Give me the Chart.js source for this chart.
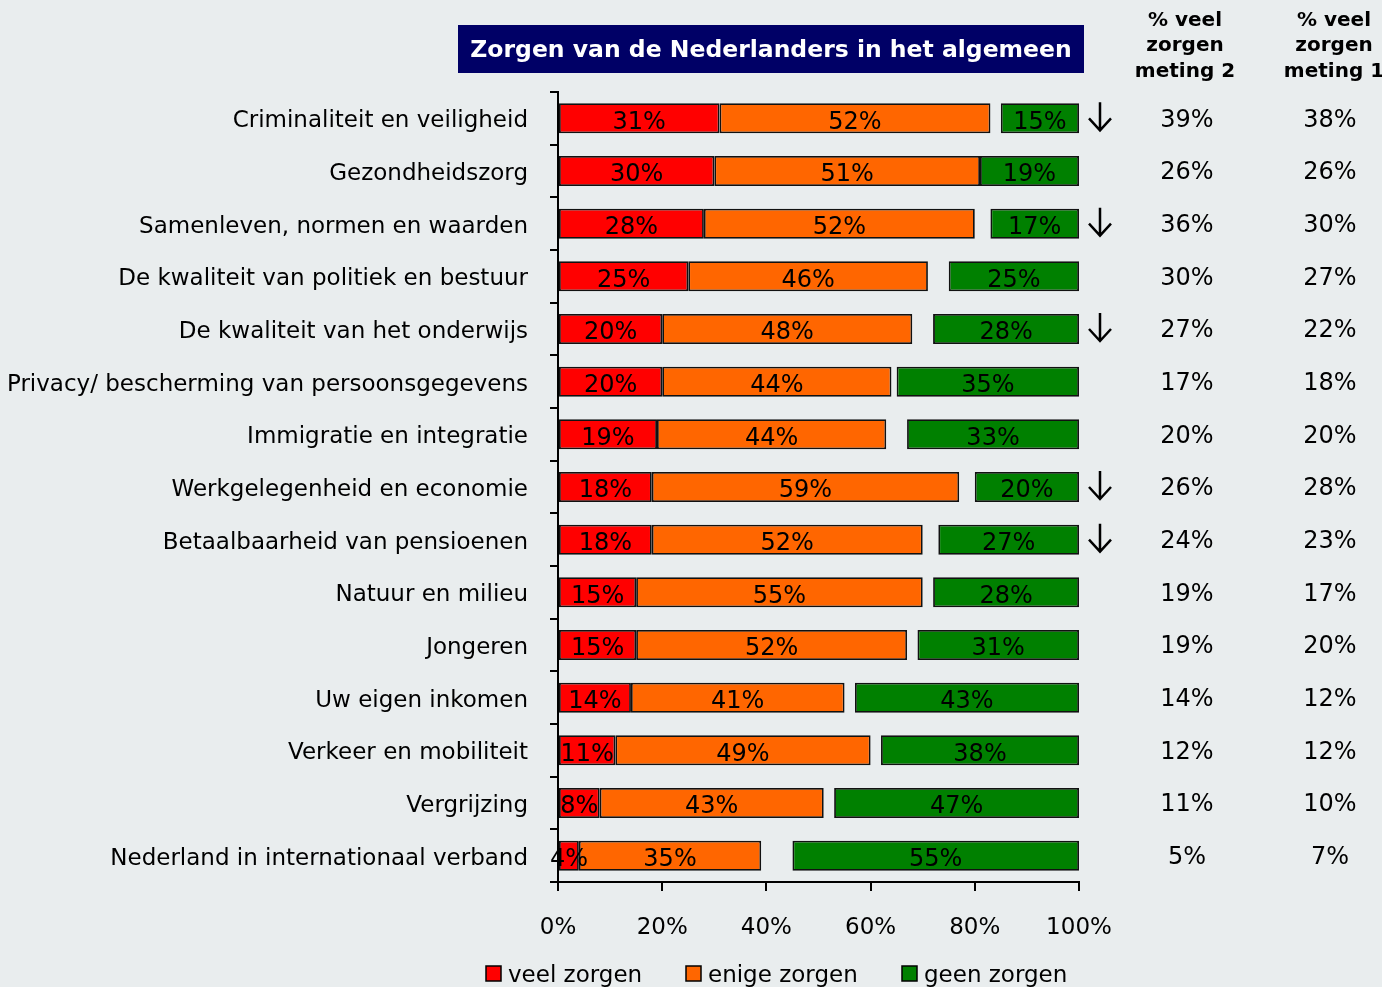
<!DOCTYPE html>
<html>
<head>
<meta charset="utf-8">
<script src="https://cdn.jsdelivr.net/npm/chart.js@4"></script>
<style>
  html, body { margin: 0; padding: 0; background: #e9edee; }
  #wrap { position: relative; width: 1382px; height: 987px; overflow: hidden; }
</style>
</head>
<body>
<div id="wrap"><canvas id="chart"></canvas></div>
<script>
const categories = [
    "Criminaliteit en veiligheid",
    "Gezondheidszorg",
    "Samenleven, normen en waarden",
    "De kwaliteit van politiek en bestuur",
    "De kwaliteit van het onderwijs",
    "Privacy/ bescherming van persoonsgegevens",
    "Immigratie en integratie",
    "Werkgelegenheid en economie",
    "Betaalbaarheid van pensioenen",
    "Natuur en milieu",
    "Jongeren",
    "Uw eigen inkomen",
    "Verkeer en mobiliteit",
    "Vergrijzing",
    "Nederland in internationaal verband"
];
const veelZorgen = [31, 30, 28, 25, 20, 20, 19, 18, 18, 15, 15, 14, 11, 8, 4];
const enigeZorgen = [52, 51, 52, 46, 48, 44, 44, 59, 52, 55, 52, 41, 49, 43, 35];
const geenZorgen = [15, 19, 17, 25, 28, 35, 33, 20, 27, 28, 31, 43, 38, 47, 55];
const meting2 = [39, 26, 36, 30, 27, 17, 20, 26, 24, 19, 19, 14, 12, 11, 5];
const meting1 = [38, 26, 30, 27, 22, 18, 20, 28, 23, 17, 20, 12, 12, 10, 7];
const dalend = [true, false, true, false, true, false, false, true, true, false, false, false, false, false, false];
const xTicks = [0, 20, 40, 60, 80, 100];

const FONT = "'DejaVu Sans', sans-serif";
const RED = "#ff0000";
const ORANGE = "#ff6600";
const GREEN = "#008000";

// ruimte tussen "enige" en "geen" (weet niet)
const rest = categories.map((c, i) => 100 - veelZorgen[i] - enigeZorgen[i] - geenZorgen[i]);

const overlay = {
    id: "overlay",
    afterDatasetsDraw(chart) {
        const ctx = chart.ctx;
        const yScale = chart.scales.y;

        // labels in the bars
        ctx.save();
        ctx.font = "24px " + FONT;
        ctx.fillStyle = "#000";
        ctx.textAlign = "center";
        ctx.textBaseline = "middle";
        [0, 1, 3].forEach(di => {
            const meta = chart.getDatasetMeta(di);
            const values = chart.data.datasets[di].data;
            meta.data.forEach((bar, i) => {
                const cx = (bar.x + bar.base) / 2;
                ctx.fillText(values[i] + "%", cx, bar.y + 4);
            });
        });
        ctx.restore();

        // right columns + arrows
        ctx.save();
        ctx.font = "24px " + FONT;
        ctx.fillStyle = "#000";
        ctx.textAlign = "center";
        ctx.textBaseline = "middle";
        categories.forEach((c, i) => {
            const y = yScale.getPixelForValue(i);
            ctx.fillText(meting2[i] + "%", 1187, y + 2);
            ctx.fillText(meting1[i] + "%", 1330, y + 2);
            if (dalend[i]) {
                ctx.strokeStyle = "#000";
                ctx.lineWidth = 2.5;
                ctx.beginPath();
                ctx.moveTo(1100, y - 16);
                ctx.lineTo(1100, y + 11);
                ctx.moveTo(1089, y);
                ctx.lineTo(1100, y + 12);
                ctx.lineTo(1111, y);
                ctx.stroke();
            }
        });
        ctx.restore();

        // title box
        ctx.save();
        ctx.fillStyle = "#000066";
        ctx.fillRect(458, 25, 626, 48);
        ctx.fillStyle = "#fff";
        ctx.font = "bold 23.5px " + FONT;
        ctx.textAlign = "center";
        ctx.textBaseline = "middle";
        ctx.fillText("Zorgen van de Nederlanders in het algemeen", 771, 51);
        ctx.restore();

        // column headers
        ctx.save();
        ctx.fillStyle = "#000";
        ctx.font = "bold 20px " + FONT;
        ctx.textAlign = "center";
        ctx.textBaseline = "middle";
        [["% veel", "zorgen", "meting 2", 1185], ["% veel", "zorgen", "meting 1", 1334]].forEach(h => {
            ctx.fillText(h[0], h[3], 21);
            ctx.fillText(h[1], h[3], 46);
            ctx.fillText(h[2], h[3], 72);
        });
        ctx.restore();

        // legend
        ctx.save();
        ctx.font = "23px " + FONT;
        ctx.textBaseline = "middle";
        ctx.textAlign = "left";
        [["veel zorgen", RED, 486], ["enige zorgen", ORANGE, 686], ["geen zorgen", GREEN, 902]].forEach(l => {
            ctx.fillStyle = l[1];
            ctx.fillRect(l[2], 966, 15, 15);
            ctx.strokeStyle = "#000";
            ctx.lineWidth = 1.5;
            ctx.strokeRect(l[2], 966, 15, 15);
            ctx.fillStyle = "#000";
            ctx.fillText(l[0], l[2] + 22, 976);
        });
        ctx.restore();
    }
};

new Chart(document.getElementById("chart"), {
    type: "bar",
    data: {
        labels: categories,
        datasets: [
            { label: "veel zorgen", data: veelZorgen, backgroundColor: RED, borderColor: "#111", borderWidth: 1.8 },
            { label: "enige zorgen", data: enigeZorgen, backgroundColor: ORANGE, borderColor: "#111", borderWidth: 1.8 },
            { label: "weet niet", data: rest, backgroundColor: "rgba(0,0,0,0)", borderWidth: 0 },
            { label: "geen zorgen", data: geenZorgen, backgroundColor: GREEN, borderColor: "#111", borderWidth: 1.8 }
        ]
    },
    options: {
        indexAxis: "y",
        responsive: true,
        maintainAspectRatio: false,
        animation: false,
        layout: { padding: { left: 0, top: 92, right: 303, bottom: 45 } },
        datasets: { bar: { categoryPercentage: 1, barPercentage: 0.57, borderSkipped: false } },
        plugins: {
            legend: { display: false },
            tooltip: { enabled: false }
        },
        scales: {
            x: {
                stacked: true,
                min: 0,
                max: 100,
                afterBuildTicks: (scale) => { scale.ticks = xTicks.map(v => ({ value: v })); },
                afterFit: (scale) => { scale.height = 60; },
                border: { color: "#000", width: 2 },
                grid: { drawOnChartArea: false, tickLength: 9, color: "#000", lineWidth: 2 },
                ticks: {
                    color: "#000",
                    font: { family: FONT, size: 23 },
                    padding: 23,
                    callback: (v) => v + "%"
                }
            },
            y: {
                stacked: true,
                afterFit: (scale) => { scale.width = 558; },
                border: { color: "#000", width: 2 },
                grid: { drawOnChartArea: false, tickLength: 8, color: "#000", lineWidth: 2, offset: true },
                ticks: {
                    color: "#000",
                    font: { family: FONT, size: 23 },
                    padding: 22,
                    labelOffset: 3
                }
            }
        }
    },
    plugins: [overlay]
});
</script>
</body>
</html>
